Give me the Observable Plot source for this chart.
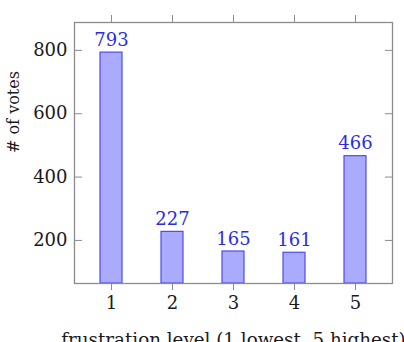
<!DOCTYPE html>
<html>
<head>
<meta charset="utf-8">
<script src="https://cdn.jsdelivr.net/npm/d3@7"></script>
<script src="https://cdn.jsdelivr.net/npm/@observablehq/plot@0.6"></script>
<style>
  html, body { margin: 0; padding: 0; background: #fff; }
  #chart svg { display: block; }
</style>
</head>
<body>
<div id="chart"></div>
<script>
const levels = [1, 2, 3, 4, 5];
const votes = [793, 227, 165, 161, 466];
const yTicks = [200, 400, 600, 800];
const xLabel = "frustration level (1 lowest, 5 highest)";
const yLabel = "# of votes";

const data = levels.map((l, i) => ({level: l, votes: votes[i]}));
const font = "DejaVu Serif";
const gray = "#8c8c8c";

const chart = Plot.plot({
  width: 404,
  height: 342,
  marginLeft: 74,
  marginRight: 12,
  marginTop: 22,
  marginBottom: 59,
  style: {fontFamily: font, fontSize: "18px", color: "#1a1a1a", background: "#fff"},
  x: {type: "band", domain: levels, paddingInner: 0.639, paddingOuter: 0.426},
  y: {domain: [64, 888], clamp: true},
  marks: [
    Plot.barY(data, {x: "level", y: "votes", fill: "#aaaaff", stroke: "#4d4de8", strokeWidth: 1.2}),
    Plot.text(data, {x: "level", y: "votes", text: d => String(d.votes), dy: -7, lineAnchor: "bottom", fill: "#2b2be6", fontSize: 18, fontFamily: font}),
    Plot.frame({stroke: gray, strokeWidth: 1.3}),
    Plot.axisY({ticks: yTicks, anchor: "left", tickSize: 0, tickPadding: 7, label: null, fontSize: 18, fontFamily: font}),
    Plot.axisY({ticks: yTicks, anchor: "left", tickSize: -8, text: null, stroke: gray, label: null}),
    Plot.axisY({ticks: yTicks, anchor: "right", tickSize: -8, text: null, stroke: gray, label: null}),
    Plot.axisX({anchor: "bottom", tickSize: 7, tickPadding: 6, stroke: gray, label: null, fontSize: 18, fontFamily: font}),
    Plot.axisX({anchor: "top", tickSize: 8, text: null, stroke: gray, label: null}),
    Plot.text([xLabel], {frameAnchor: "bottom", text: d => d, dy: 62, lineAnchor: "bottom", fontSize: 18.3, fill: "#1a1a1a", fontFamily: font}),
    Plot.text([yLabel], {frameAnchor: "left", text: d => d, dx: -61, rotate: -90, fontSize: 16, fill: "#1a1a1a", fontFamily: font})
  ]
});
document.getElementById("chart").appendChild(chart);
</script>
</body>
</html>
